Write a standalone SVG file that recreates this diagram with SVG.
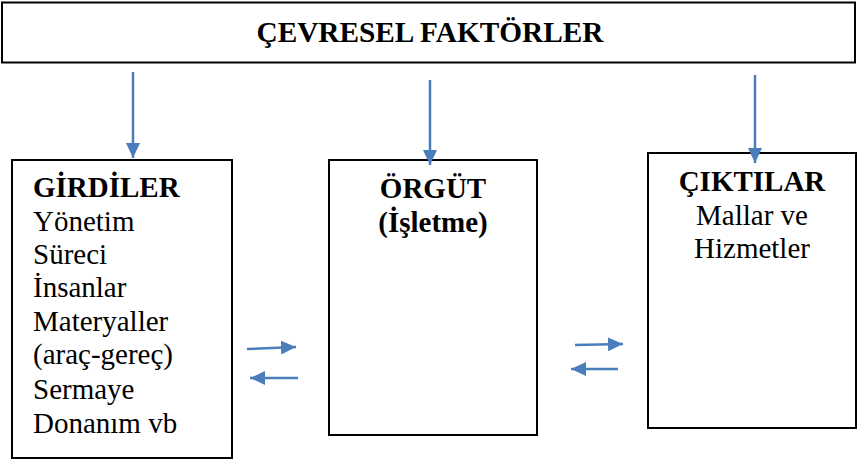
<svg xmlns="http://www.w3.org/2000/svg" width="858" height="460" viewBox="0 0 858 460">
<style>
.box{fill:#fff;stroke:#000;stroke-width:2}
.t{font-family:"Liberation Serif","Times New Roman",serif;font-size:29px;fill:#000}
.b{font-weight:bold}
.c{text-anchor:middle}
.arr{stroke:#4a7ebb;stroke-width:2.5;fill:none;marker-end:url(#ah)}
</style>
<defs>
<marker id="ah" markerUnits="userSpaceOnUse" markerWidth="16" markerHeight="16" viewBox="0 0 16 16" refX="15" refY="8" orient="auto">
<path d="M0,1 L15,8 L0,15 Z" fill="#4a7ebb"/>
</marker>
</defs>
<g id="cevresel">
<rect class="box" x="2" y="2.5" width="853" height="60"/>
<text class="t b c" x="430" y="42" style="font-size:29.3px">ÇEVRESEL FAKTÖRLER</text>
</g>
<g id="girdiler">
<rect class="box" x="12" y="160" width="220" height="298"/>
<text class="t" x="33" y="197"><tspan class="b">GİRDİLER</tspan><tspan x="33" y="231">Yönetim</tspan><tspan x="33" y="264">Süreci</tspan><tspan x="33" y="297">İnsanlar</tspan><tspan x="33" y="331">Materyaller</tspan><tspan x="33" y="364">(araç-gereç)</tspan><tspan x="33" y="399">Sermaye</tspan><tspan x="33" y="433">Donanım vb</tspan></text>
</g>
<g id="orgut">
<rect class="box" x="329" y="160" width="208" height="275"/>
<text class="t b c" x="433" y="198">ÖRGÜT</text>
<text class="t b c" x="433" y="232">(İşletme)</text>
</g>
<g id="ciktilar">
<rect class="box" x="648" y="153" width="208" height="275"/>
<text class="t b c" x="752" y="191">ÇIKTILAR</text>
<text class="t c" x="752" y="225">Mallar ve</text>
<text class="t c" x="752" y="258">Hizmetler</text>
</g>
<g id="connectors">
<line class="arr" x1="133" y1="72" x2="133" y2="158"/>
<line class="arr" x1="430" y1="80" x2="430" y2="165"/>
<line class="arr" x1="755" y1="75" x2="755" y2="163"/>
<line class="arr" x1="247" y1="349" x2="296" y2="347"/>
<line class="arr" x1="298" y1="378" x2="250" y2="378"/>
<line class="arr" x1="575" y1="345" x2="623" y2="344"/>
<line class="arr" x1="618" y1="369" x2="571" y2="369"/>
</g>
</svg>
